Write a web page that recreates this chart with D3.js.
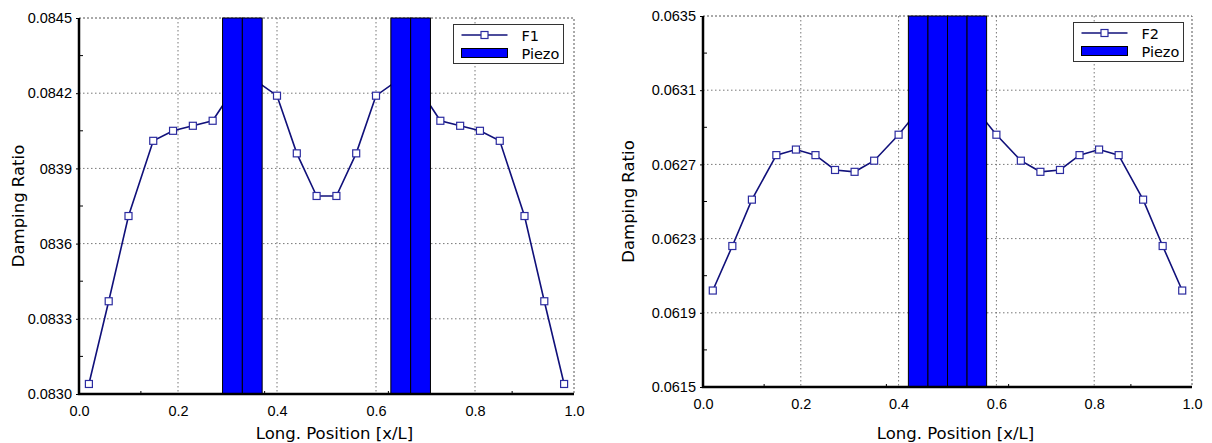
<!DOCTYPE html>
<html>
<head>
<meta charset="utf-8">
<style>
body { margin: 0; background: #fff; }
svg { font-family: "DejaVu Sans", sans-serif; }
.grid line { stroke: #777; stroke-dasharray: 1.5,2.5; stroke-width: 1; }
.frame { fill: none; stroke: #555; stroke-dasharray: 2,2; }
.axis path, .axis line { stroke: #000; }
.axis text { font-size: 14.5px; fill: #000; }
.series { fill: none; stroke: #10107a; stroke-width: 1.6px; }
.marker { fill: #fff; stroke: #2c2ca0; stroke-width: 1.2px; }
.piezo { fill: #0000ff; stroke: #000; stroke-width: 1px; }
.title { font-size: 16.5px; fill: #000; }
.legend text { font-size: 14.5px; }
</style>
</head>
<body>
<svg width="1212" height="443"></svg>
<script src="https://cdn.jsdelivr.net/npm/d3@7"></script>
<script>

// positions along the beam (same for both modes)
var xPos = [0.02, 0.06, 0.10, 0.15, 0.19, 0.23, 0.27, 0.31, 0.35, 0.40, 0.44, 0.48,
            0.52, 0.56, 0.60, 0.65, 0.69, 0.73, 0.77, 0.81, 0.85, 0.90, 0.94, 0.98]

var f1Values = [0.08304, 0.08337, 0.08371, 0.08401, 0.08405, 0.08407, 0.08409, 0.08421,
                0.08426, 0.08419, 0.08396, 0.08379, 0.08379, 0.08396, 0.08419, 0.08426,
                0.08421, 0.08409, 0.08407, 0.08405, 0.08401, 0.08371, 0.08337, 0.08304]

var f2Values = [0.06202, 0.06226, 0.06251, 0.06275, 0.06278, 0.06275, 0.06267, 0.06266,
                0.06272, 0.06286, 0.06299, 0.06305, 0.06305, 0.06299, 0.06286, 0.06272,
                0.06266, 0.06267, 0.06275, 0.06278, 0.06275, 0.06251, 0.06226, 0.06202]

// piezo patches [start, end] in x/L
var piezo1 = [[0.29, 0.33], [0.33, 0.37], [0.63, 0.67], [0.67, 0.71]]
var piezo2 = [[0.42, 0.46], [0.46, 0.50], [0.50, 0.54], [0.54, 0.58]]

var xTicks = [0, 0.2, 0.4, 0.6, 0.8, 1.0]
var xTickLabels = ["0.0", "0.2", "0.4", "0.6", "0.8", "1.0"]
var xMinor = [0.125, 0.375, 0.625, 0.875]

var yTicks1 = [0.0830, 0.0833, 0.0836, 0.0839, 0.0842, 0.0845]
var yTickLabels1 = ["0.0830", "0.0833", "0836", "0839", "0.0842", "0.0845"]
var yTicks2 = [0.0615, 0.0619, 0.0623, 0.0627, 0.0631, 0.0635]
var yTickLabels2 = ["0.0615", "0.0619", "0.0623", "0.0627", "0.0631", "0.0635"]

var svg = d3.select("svg")

function drawChart(cfg) {
  var x = d3.scaleLinear().domain([0, 1]).range([cfg.left, cfg.right])
  var y = d3.scaleLinear().domain(d3.extent(cfg.yTicks)).range([cfg.bottom, cfg.top])

  var g = svg.append("g")

  // grid
  var grid = g.append("g").attr("class", "grid")
  grid.selectAll(".gx").data(xTicks.slice(1, -1)).enter().append("line")
    .attr("x1", d => x(d)).attr("x2", d => x(d))
    .attr("y1", cfg.top).attr("y2", cfg.bottom)
  grid.selectAll(".gy").data(cfg.yTicks.slice(1, -1)).enter().append("line")
    .attr("x1", cfg.left).attr("x2", cfg.right)
    .attr("y1", d => y(d)).attr("y2", d => y(d))
  g.append("path").attr("class", "frame")
    .attr("d", "M" + cfg.left + "," + cfg.top + "H" + cfg.right + "V" + cfg.bottom)

  // series
  var pts = xPos.map((v, i) => [v, cfg.values[i]])
  var line = d3.line().x(d => x(d[0])).y(d => y(d[1]))
  g.append("path").attr("class", "series").attr("d", line(pts))
  g.selectAll(".marker").data(pts).enter().append("rect")
    .attr("class", "marker")
    .attr("x", d => x(d[0]) - 3.5).attr("y", d => y(d[1]) - 3.5)
    .attr("width", 7).attr("height", 7)

  // piezo patches on top
  g.selectAll(".piezo").data(cfg.piezo).enter().append("rect")
    .attr("class", "piezo")
    .attr("x", d => x(d[0])).attr("width", d => x(d[1]) - x(d[0]))
    .attr("y", cfg.top).attr("height", cfg.bottom - cfg.top)

  // axes
  var yMinor = d3.range(cfg.yTicks.length - 1).map(i => (cfg.yTicks[i] + cfg.yTicks[i + 1]) / 2)

  var ax = g.append("g").attr("class", "axis")
    .attr("transform", "translate(0," + cfg.bottom + ")")
    .call(d3.axisBottom(x).tickValues(xTicks).tickSize(0).tickPadding(12)
      .tickFormat((d, i) => xTickLabels[i]))
  ax.select(".domain").remove()
  ax.selectAll(".minor").data(xMinor).enter().append("line")
    .attr("x1", d => x(d)).attr("x2", d => x(d)).attr("y1", 0).attr("y2", -3)
    .attr("stroke", "#000")

  var ay = g.append("g").attr("class", "axis")
    .attr("transform", "translate(" + cfg.left + ",0)")
    .call(d3.axisLeft(y).tickValues(cfg.yTicks).tickSize(3).tickPadding(4)
      .tickFormat((d, i) => cfg.yLabels[i]))
  ay.select(".domain").remove()
  ay.selectAll(".minor").data(yMinor).enter().append("line")
    .attr("x1", 0).attr("x2", 4).attr("y1", d => y(d)).attr("y2", d => y(d))
    .attr("stroke", "#000")

  g.append("path")
    .attr("d", "M" + cfg.left + "," + cfg.top + "V" + cfg.bottom + "H" + cfg.right)
    .attr("fill", "none").attr("stroke", "#000").attr("stroke-width", 2.5)

  // titles
  g.append("text").attr("class", "title")
    .attr("x", (cfg.left + cfg.right) / 2 + 8).attr("y", 439)
    .attr("text-anchor", "middle").text("Long. Position [x/L]")
  g.append("text").attr("class", "title")
    .attr("transform", "translate(" + cfg.yTitleX + "," + ((cfg.top + cfg.bottom) / 2) + ") rotate(-90)")
    .attr("text-anchor", "middle").text("Damping Ratio")

  // legend
  var lg = g.append("g").attr("class", "legend")
    .attr("transform", "translate(" + cfg.legend[0] + "," + cfg.legend[1] + ")")
  lg.append("rect").attr("width", 110).attr("height", 39)
    .attr("fill", "#fff").attr("stroke", "#333")
  lg.append("line").attr("x1", 8).attr("x2", 54).attr("y1", 10.5).attr("y2", 10.5)
    .attr("stroke", "#10107a").attr("stroke-width", 1.6)
  lg.append("rect").attr("class", "marker").attr("x", 27.5).attr("y", 7).attr("width", 7).attr("height", 7)
  lg.append("rect").attr("class", "piezo").attr("x", 8).attr("y", 24).attr("width", 46).attr("height", 9)
  lg.append("text").attr("x", 68).attr("y", 16).text(cfg.name)
  lg.append("text").attr("x", 68).attr("y", 34).text("Piezo")
}

drawChart({
  left: 79, right: 574, top: 18, bottom: 394,
  yTicks: yTicks1, yLabels: yTickLabels1, values: f1Values, piezo: piezo1,
  name: "F1", legend: [453.5, 24.5], yTitleX: 24
})

drawChart({
  left: 703, right: 1192, top: 16, bottom: 387,
  yTicks: yTicks2, yLabels: yTickLabels2, values: f2Values, piezo: piezo2,
  name: "F2", legend: [1073.5, 22.5], yTitleX: 634
})

</script>
</body>
</html>
